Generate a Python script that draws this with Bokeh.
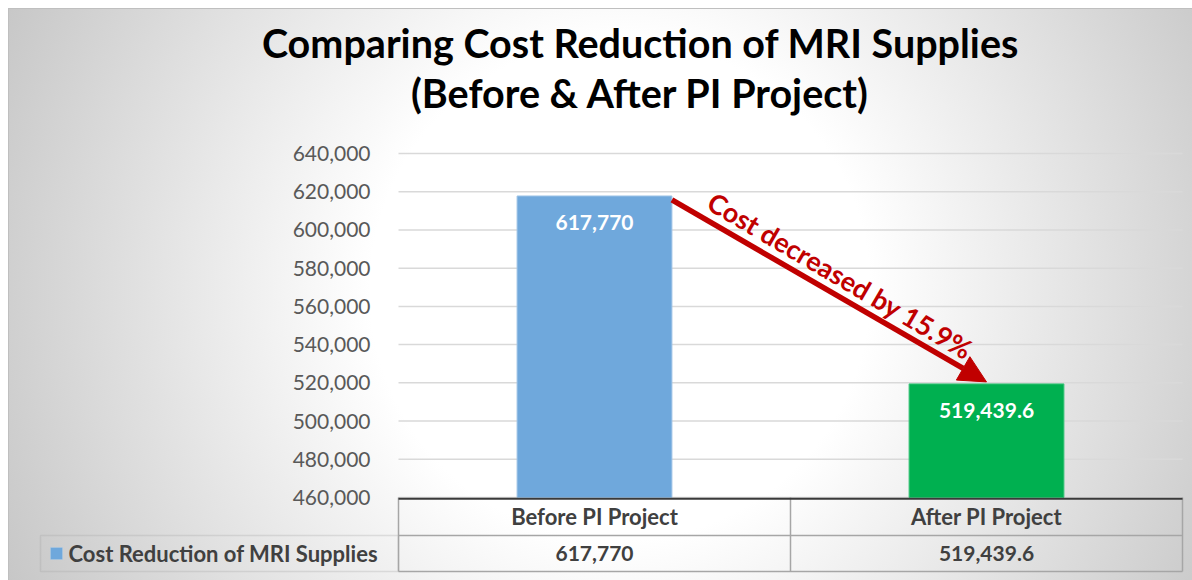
import numpy as np
from bokeh.plotting import figure
from bokeh.models import (Range1d, FixedTicker, NumeralTickFormatter, Label, Arrow,
                          NormalHead, BoxAnnotation, ColumnDataSource)
from bokeh.embed import file_html
from bokeh.resources import INLINE
from bokeh.core.properties import value

# ---------------- data ----------------
title_lines = ["Comparing Cost Reduction of MRI Supplies", "(Before & After PI Project)"]
categories = ["Before PI Project", "After PI Project"]
series_name = "Cost Reduction of MRI Supplies"
costs = [617770, 519439.6]
bar_colors = ["#6FA8DC", "#00B050"]
bar_edges = ["#9DC3E6", "#3CC47A"]
y_ticks = [460000, 480000, 500000, 520000, 540000, 560000, 580000, 600000, 620000, 640000]

pct = (1 - costs[1] / costs[0]) * 100
arrow_text = f"Cost decreased by {pct:.1f}%"


def fmt(v):
    s = f"{v:,.1f}"
    return s[:-2] if s.endswith(".0") else s


labels = [fmt(v) for v in costs]

# ---------------- layout / style ----------------
FONT = "Lato"
RED = "#C00000"
TXT = "#404040"
TABLE_LINE = "#A6A6A6"

W, H = 1192, 580
PLOT_LEFT = 398                   # canvas x where the category area begins
CAT_PX = 392                      # pixel width of one category column
AXIS_Y = 497                      # canvas y of the axis minimum
PX_PER_STEP = 38.222              # pixels per y tick step
STEP = y_ticks[1] - y_ticks[0]
UPP = STEP / PX_PER_STEP          # data units per pixel
Y0 = y_ticks[0]
ROW1, ROW2 = 38, 36               # table row heights in px

x_start = -PLOT_LEFT / CAT_PX
x_end = (W - PLOT_LEFT) / CAT_PX
y_end = Y0 + AXIS_Y * UPP
y_start = Y0 - (H - AXIS_Y) * UPP

p = figure(width=W, height=H, output_backend="svg", toolbar_location=None, tools="",
           x_range=Range1d(x_start, x_end), y_range=Range1d(y_start, y_end),
           x_axis_location=None, min_border=0, min_border_left=0, min_border_right=0,
           min_border_top=0, min_border_bottom=0,
           background_fill_alpha=0, border_fill_alpha=0, outline_line_color=None)
p.title.visible = False
p.styles = {
    "background": "radial-gradient(circle at 620px 290px, #ffffff 250px, #c4c4c4 700px)",
    "box-shadow": "inset 8px 8px 0 0 #ffffff, inset 9px 9px 0 0 #bfbfbf",
}

# y axis pinned at the start of the category area
p.yaxis.fixed_location = 0
p.yaxis.ticker = FixedTicker(ticks=y_ticks)
p.yaxis.formatter = NumeralTickFormatter(format="0,0")
p.yaxis.axis_line_color = None
p.yaxis.major_tick_line_color = None
p.yaxis.minor_tick_line_color = None
p.yaxis.major_tick_out = 0
p.yaxis.major_tick_in = 0
p.yaxis.major_label_standoff = 28
p.yaxis.major_label_text_font = FONT
p.yaxis.major_label_text_font_size = "21px"
p.yaxis.major_label_text_color = "#595959"
p.grid.visible = False

n = len(categories)
# horizontal gridlines across the category area only
p.segment(x0=0, x1=n, y0=y_ticks, y1=y_ticks, line_color="#D9D9D9", line_width=1.5)

# table geometry (data units)
r1_bot = Y0 - ROW1 * UPP
r2_bot = r1_bot - ROW2 * UPP
row1_mid = (Y0 + r1_bot) / 2
row2_mid = (r1_bot + r2_bot) / 2

# bars
xs = np.arange(n) + 0.5
bw = 0.395
src = ColumnDataSource(dict(x=xs, top=costs, color=bar_colors, edge=bar_edges, label=labels,
                            cat=categories,
                            ylab=[c - 27 * UPP for c in costs]))
p.vbar(x="x", top="top", bottom=Y0, width=bw, fill_color="color", line_color="edge",
       line_width=1, source=src)
p.text(x="x", y="ylab", text="label", source=src, text_align="center", text_baseline="middle",
       text_font=value(FONT), text_font_style="bold", text_font_size="21px", text_color="white")

# data table below the chart
p.segment(x0=[0, 0], x1=[n, n], y0=[r1_bot, r2_bot], y1=[r1_bot, r2_bot],
          line_color=TABLE_LINE, line_width=1.5)
p.segment(x0=list(range(n + 1)), x1=list(range(n + 1)), y0=[Y0] * (n + 1), y1=[r2_bot] * (n + 1),
          line_color=TABLE_LINE, line_width=1.5)
p.segment(x0=[0], x1=[n], y0=[Y0 - 1.2 * UPP], y1=[Y0 - 1.2 * UPP], line_color="#3A3A3A",
          line_width=2)
p.text(x="x", y=row1_mid, text="cat", source=src, text_align="center",
       text_baseline="middle", text_font=value(FONT), text_font_style="bold",
       text_font_size="22px", text_color=TXT)
p.text(x="x", y=row2_mid, text="label", source=src, text_align="center",
       text_baseline="middle", text_font=value(FONT), text_font_style="bold",
       text_font_size="21px", text_color=TXT)

# legend cell
p.add_layout(BoxAnnotation(left=40, left_units="screen", right=0, right_units="data",
                           top=r1_bot, bottom=r2_bot, fill_color=None, fill_alpha=0,
                           line_color=TABLE_LINE, line_width=1.5, level="overlay"))
p.add_layout(BoxAnnotation(left=50, right=62, left_units="screen", right_units="screen",
                           top=row2_mid + 6 * UPP, bottom=row2_mid - 6 * UPP,
                           fill_color=bar_colors[0], fill_alpha=1, line_color="#BDD7EE",
                           line_width=1, level="overlay"))
p.add_layout(Label(x=68, x_units="screen", y=row2_mid, y_units="data", text=series_name,
                   text_align="left", text_baseline="middle", text_font=FONT,
                   text_font_style="bold", text_font_size="22px", text_color=TXT))

# arrow + annotation
p.add_layout(Arrow(end=NormalHead(size=27, fill_color=RED, line_color=RED, line_width=1),
                   x_start=xs[0] + bw / 2, y_start=costs[0] - 4 * UPP,
                   x_end=xs[1], y_end=costs[1] + 2 * UPP,
                   line_color=RED, line_width=5.5))
p.add_layout(Label(x=840, y=H - 275, x_units="screen", y_units="screen", text=arrow_text,
                   angle=-0.53, text_align="center", text_baseline="middle", text_font=FONT,
                   text_font_style="bold", text_font_size="27px", text_color=RED))

# title (two centred lines)
for i, t in enumerate(title_lines):
    p.add_layout(Label(x=640, y=H - 42 - 50 * i, x_units="screen", y_units="screen", text=t,
                       text_align="center", text_baseline="middle", text_font=FONT,
                       text_font_style="bold", text_font_size="39.5px", text_color="black"))

open("out.html", "w").write(file_html(p, INLINE, title="MRI Supplies"))
